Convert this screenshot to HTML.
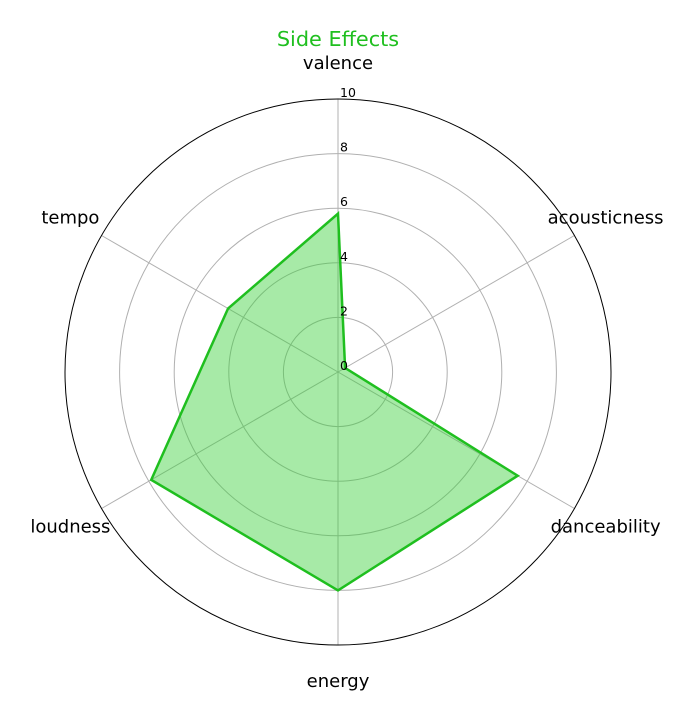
<!DOCTYPE html>
<html><head><meta charset="utf-8"><style>
body{margin:0;background:#fff;}
svg{display:block;font-family:"DejaVu Sans","Liberation Sans",sans-serif;}
</style></head><body>
<svg id="chart" width="693" height="721" viewBox="0 0 693 721" xmlns="http://www.w3.org/2000/svg">
<text x="338" y="46" text-anchor="middle" font-size="20.8" fill="#1fbf1f">Side Effects</text>
<g id="grid"></g><g id="series"></g><g id="labels"></g>
</svg>
<script>
const categories = ["valence","acousticness","danceability","energy","loudness","tempo"];
const values = [5.8, 0.3, 7.6, 8.0, 7.9, 4.65];
const ringTicks = [2,4,6,8,10];
const tickLabels = ["0","2","4","6","8","10"];
const cx=338, cy=372, R=273, maxV=10;
const NS="http://www.w3.org/2000/svg";
function rScale(v){return v/maxV*R;}
function ang(i){return Math.PI/2 - i*2*Math.PI/categories.length;}
function pt(i,v){const a=ang(i),r=rScale(v);return [cx+r*Math.cos(a), cy-r*Math.sin(a)];}
function mk(t,attrs,parent){const e=document.createElementNS(NS,t);for(const k in attrs)e.setAttribute(k,attrs[k]);parent.appendChild(e);return e;}
const grid=document.getElementById('grid'), ser=document.getElementById('series'), lab=document.getElementById('labels');
categories.forEach((c,i)=>{const p=pt(i,maxV);
 const l=mk('line',{x1:cx,y1:cy,x2:p[0],y2:p[1],stroke:'#b0b0b0','stroke-width':1},grid);
 
 
});
ringTicks.forEach(t=>{
 const c=mk('circle',{cx:cx,cy:cy,r:rScale(t),fill:'none',stroke:t===maxV?'#000':'#b0b0b0','stroke-width':1},grid);
 
 
});
const poly=values.map((v,i)=>pt(i,v).join(',')).join(' ');
const fill=mk('polygon',{points:poly,fill:'#3cd03c','fill-opacity':0.45,stroke:'none'},ser);


const line=mk('polygon',{points:poly,fill:'none',stroke:'#1fbf1f','stroke-width':2.5},ser);


tickLabels.forEach((t,k)=>{const r=rScale(k*2);
 const e=mk('text',{x:cx+2,y:cy-r-2,'font-size':12.5,fill:'#000'},lab);e.textContent=t;
 
 
});
categories.forEach((c,i)=>{const a=ang(i);const rr=309;
 const x=cx+rr*Math.cos(a), y=cy-rr*Math.sin(a);
 const e=mk('text',{x:x,y:y+6,'font-size':18,'text-anchor':'middle',fill:'#000'},lab);
 e.textContent=c;
 
 
});
</script>
</body></html>
